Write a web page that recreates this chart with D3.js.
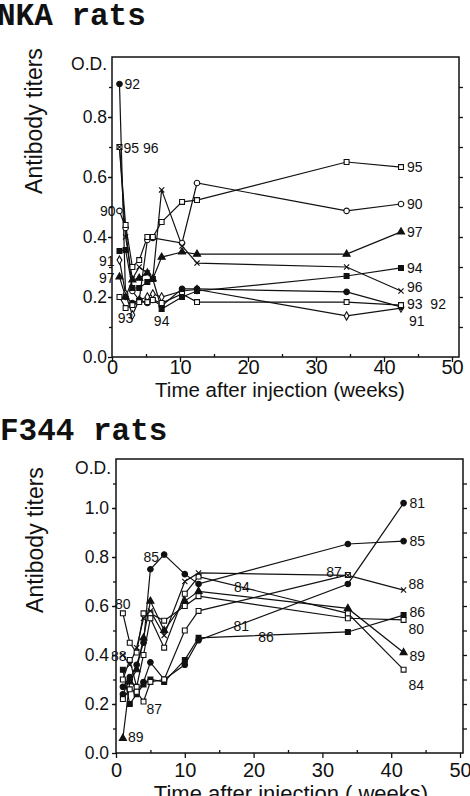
<!DOCTYPE html>
<html lang="en">
<head>
<meta charset="UTF-8">
<title>Antibody titers - NKA and F344 rats</title>
<script src="https://d3js.org/d3.v7.min.js"></script>
<style>
  body { margin: 0; background: #fff; }
  svg { display: block; }
  text { fill: #111; font-family: "Liberation Sans", Arial, Helvetica, sans-serif; }
  .title { font-family: "Courier New", "Liberation Mono", monospace; font-weight: bold; font-size: 31px; }
</style>
</head>
<body>
<div id="chart"></div>
<script>
// ---- DATA ----
// NKA rats: weeks after injection and O.D. per rat (null = not measured)
var weeksNka = [1.1, 2, 3, 4, 5.2, 6, 7.3, 10.3, 12.5, 34.5, 42.5];
var nka90 = [0.487, 0.43, 0.22, 0.19, 0.39, 0.397, null, 0.38, 0.58, 0.487, 0.51];
var nka91 = [0.323, 0.21, 0.14, 0.19, 0.20, 0.21, 0.20, 0.22, 0.225, 0.137, 0.163];
var nka92 = [0.91, 0.20, 0.18, 0.19, 0.18, 0.19, 0.17, 0.227, 0.227, 0.217, 0.167];
var nka93 = [0.20, 0.163, 0.173, 0.183, 0.183, 0.19, 0.18, 0.21, 0.183, 0.183, 0.173];
var nka94 = [0.353, 0.357, 0.23, 0.23, 0.25, 0.26, 0.16, 0.20, 0.22, 0.27, 0.297];
var nka95 = [0.70, 0.44, 0.30, 0.323, 0.40, 0.40, 0.45, 0.517, 0.523, 0.65, 0.633];
var nka96 = [0.70, 0.40, 0.26, 0.30, 0.28, 0.26, 0.557, 0.37, 0.313, 0.30, 0.22];
var nka97 = [0.267, 0.20, 0.257, 0.263, 0.28, 0.26, 0.333, 0.35, 0.343, 0.343, 0.417];

// F344 rats
var weeksF344 = [1, 2, 3, 4, 5, 7, 10, 12, 33.7, 41.8];
var f80 = [0.57, 0.45, 0.41, 0.57, 0.57, 0.54, 0.60, 0.64, 0.55, 0.543];
var f81 = [0.27, 0.31, 0.25, 0.29, 0.37, 0.30, 0.36, 0.46, 0.69, 1.02];
var f84 = [0.30, 0.38, 0.27, 0.40, 0.55, 0.43, 0.65, 0.72, 0.57, 0.34];
var f85 = [0.24, 0.30, 0.36, 0.45, 0.75, 0.81, 0.73, 0.69, 0.853, 0.865];
var f86 = [0.34, 0.20, 0.24, 0.28, 0.30, 0.29, 0.38, 0.47, 0.494, 0.563];
var f87 = [0.22, 0.26, 0.25, 0.21, 0.29, 0.30, 0.50, 0.58, 0.727, null];
var f88 = [0.40, 0.36, 0.43, 0.55, 0.58, 0.48, 0.70, 0.735, 0.725, 0.665];
var f89 = [0.06, 0.29, 0.34, 0.47, 0.62, 0.50, 0.62, 0.66, 0.59, 0.41];

// tick labels
var xTicks = [0, 10, 20, 30, 40, 50];
var yTicksNka = [0, 0.2, 0.4, 0.6, 0.8];
var yTicksF344 = [0, 0.2, 0.4, 0.6, 0.8, 1.0];

// ---- SERIES + LABELS ----
var seriesNka = [
  {id: "90", v: nka90, mark: "circle", open: true},
  {id: "91", v: nka91, mark: "diamond", open: true},
  {id: "92", v: nka92, mark: "circle", open: false},
  {id: "93", v: nka93, mark: "square", open: true},
  {id: "94", v: nka94, mark: "square", open: false},
  {id: "95", v: nka95, mark: "square", open: true},
  {id: "96", v: nka96, mark: "cross", open: true},
  {id: "97", v: nka97, mark: "triangle", open: false}
];
var labelsNka = [
  {s: "92", i: 0, dx: 5, dy: 5, t: "92"},
  {s: "95", i: 0, dx: 4, dy: 6, t: "95 96"},
  {s: "90", i: 0, dx: -4, dy: 5, a: "end", t: "90"},
  {s: "91", i: 0, dx: -5, dy: 6, a: "end", t: "91"},
  {s: "97", i: 0, dx: -5, dy: 6, a: "end", t: "97"},
  {s: "93", i: 1, dx: 0, dy: 15, a: "middle", t: "93"},
  {s: "94", i: 6, dx: 0, dy: 17, a: "middle", t: "94"},
  {s: "95", i: 10, dx: 6, dy: 5, t: "95"},
  {s: "90", i: 10, dx: 6, dy: 5, t: "90"},
  {s: "97", i: 10, dx: 6, dy: 5, t: "97"},
  {s: "94", i: 10, dx: 6, dy: 5, t: "94"},
  {s: "96", i: 10, dx: 6, dy: 1, t: "96"},
  {s: "93", i: 10, dx: 6, dy: 4, t: "93  92"},
  {s: "91", i: 10, dx: 8, dy: 18, t: "91"}
];

var seriesF344 = [
  {id: "80", v: f80, mark: "square", open: true},
  {id: "81", v: f81, mark: "circle", open: false},
  {id: "84", v: f84, mark: "square", open: true},
  {id: "85", v: f85, mark: "circle", open: false},
  {id: "86", v: f86, mark: "square", open: false},
  {id: "87", v: f87, mark: "square", open: true},
  {id: "88", v: f88, mark: "cross", open: true},
  {id: "89", v: f89, mark: "triangle", open: false}
];
var labelsF344 = [
  {s: "81", i: 9, dx: 6, dy: 5, t: "81"},
  {s: "85", i: 9, dx: 6, dy: 5, t: "85"},
  {s: "88", i: 9, dx: 5, dy: -1, t: "88"},
  {s: "86", i: 9, dx: 6, dy: 2, t: "86"},
  {s: "80", i: 9, dx: 5, dy: 14, t: "80"},
  {s: "89", i: 9, dx: 6, dy: 8, t: "89"},
  {s: "84", i: 9, dx: 5, dy: 20, t: "84"},
  {s: "87", i: 8, dx: -6, dy: 2, a: "end", t: "87"},
  {s: "85", i: 5, dx: -5, dy: 7, a: "end", t: "85"},
  {s: "80", i: 0, dx: 0, dy: -4, a: "middle", t: "80"},
  {s: "87", i: 3, dx: 3, dy: 12, t: "87"},
  {s: "89", i: 0, dx: 5, dy: 4, t: "89"},
  {w: 0, v: 0.4, dx: -5, dy: 6, t: "88"},
  {w: 18.3, v: 0.678, dx: 0, dy: 5, a: "middle", t: "84"},
  {w: 18.2, v: 0.518, dx: 0, dy: 5, a: "middle", t: "81"},
  {w: 21.8, v: 0.473, dx: 0, dy: 5, a: "middle", t: "86"}
];

// ---- DRAW ----
var svg = d3.select("#chart").append("svg")
    .attr("width", 470)
    .attr("height", 796);

function markerPath(kind) {
  if (kind == "circle") return d3.symbol(d3.symbolCircle, 24)();
  if (kind == "square") return d3.symbol(d3.symbolSquare, 24)();
  if (kind == "triangle") return d3.symbol(d3.symbolTriangle, 22)();
  if (kind == "diamond") return d3.symbol(d3.symbolDiamond, 20)();
  return "M-2.6,-2.6L2.6,2.6M-2.6,2.6L2.6,-2.6";
}

function drawPanel(p) {
  var g = svg.append("g");
  var x = d3.scaleLinear().domain([0, 50]).range([p.left, p.x50]);
  var y = d3.scaleLinear().domain([0, p.yMax]).range([p.bottom, p.top]);

  // title
  g.append("text").attr("class", "title")
    .attr("x", p.titleX).attr("y", p.titleY).text(p.title);

  // frame
  g.append("rect")
    .attr("x", p.left).attr("y", p.top)
    .attr("width", p.right - p.left).attr("height", p.bottom - p.top)
    .attr("fill", "none").attr("stroke", "#111").attr("stroke-width", 1.5);

  // left axis: major ticks + labels, minor ticks
  var yAx = g.append("g").attr("transform", "translate(" + p.left + ",0)")
    .call(d3.axisLeft(y).tickValues(p.yTicks).tickSize(4).tickPadding(p.yPad)
      .tickFormat(d3.format(".1f")));
  var yMinor = g.append("g").attr("transform", "translate(" + p.left + ",0)")
    .call(d3.axisLeft(y).tickValues(d3.range(1, p.yMax * 10).map(function(d) { return d / 10; }))
      .tickSize(3).tickFormat(""));
  // right axis ticks, pointing inward
  var yRight = g.append("g").attr("transform", "translate(" + p.right + ",0)")
    .call(d3.axisLeft(y).tickValues(d3.range(1, p.yMax * 10).map(function(d) { return d / 10; }))
      .tickSize(-4).tickFormat(""));
  // bottom axis
  var xAx = g.append("g").attr("transform", "translate(0," + p.bottom + ")")
    .call(d3.axisBottom(x).tickValues(xTicks).tickSize(5).tickPadding(p.xPad)
      .tickFormat(d3.format("d")));
  var xMinor = g.append("g").attr("transform", "translate(0," + p.bottom + ")")
    .call(d3.axisBottom(x).tickValues([5, 15, 25, 35, 45]).tickSize(-3).tickFormat(""));

  [yAx, yMinor, yRight, xAx, xMinor].forEach(function(a) {
    a.select(".domain").remove();
    a.selectAll("line").attr("stroke", "#111").attr("stroke-width", 1.3);
  });
  yAx.selectAll("text").style("font-size", "17.5px").attr("fill", "#111");
  xAx.selectAll("text").style("font-size", p.xTickSize).attr("fill", "#111");

  // O.D. unit on top of y axis
  g.append("text").attr("x", p.left - 5).attr("y", p.top + p.odDy)
    .attr("text-anchor", "end").style("font-size", "17.5px").text("O.D.");

  // axis titles
  g.append("text")
    .attr("transform", "translate(" + p.yTitleX + "," + p.yTitleY + ") rotate(-90)")
    .attr("text-anchor", "middle").style("font-size", "23px")
    .text("Antibody titers");
  g.append("text").attr("x", p.xTitleX).attr("y", p.xTitleY)
    .attr("text-anchor", "middle").style("font-size", p.xTitleSize)
    .text(p.xTitle);

  // series
  var line = d3.line().x(function(d) { return x(d.w); }).y(function(d) { return y(d.v); });
  var pts = {};
  p.series.forEach(function(s) {
    pts[s.id] = p.weeks.map(function(w, i) { return {w: w, v: s.v[i]}; });
  });
  p.series.forEach(function(s) {
    g.append("path")
      .datum(pts[s.id].filter(function(d) { return d.v != null; }))
      .attr("fill", "none").attr("stroke", "#111").attr("stroke-width", 1.2)
      .attr("d", line);
  });
  p.series.forEach(function(s) {
    g.selectAll(null)
      .data(pts[s.id].filter(function(d) { return d.v != null; }))
      .enter().append("path")
        .attr("transform", function(d) { return "translate(" + x(d.w) + "," + y(d.v) + ")"; })
        .attr("d", markerPath(s.mark))
        .attr("fill", s.open ? "#fff" : "#111")
        .attr("stroke", "#111").attr("stroke-width", 1.1);
  });

  // rat number labels
  p.labels.forEach(function(l) {
    var d = l.s ? pts[l.s][l.i] : {w: l.w, v: l.v};
    g.append("text")
      .attr("x", x(d.w) + l.dx).attr("y", y(d.v) + l.dy)
      .attr("text-anchor", l.a || "start")
      .style("font-size", "14px")
      .style("white-space", "pre")
      .text(l.t);
  });
}

drawPanel({
  title: "NKA rats", titleX: -3, titleY: 25,
  left: 112, x50: 452, right: 459, top: 57, bottom: 357, yMax: 1.0,
  yTicks: yTicksNka, yPad: 1, xPad: -2, xTickSize: "20px", odDy: 13,
  yTitleX: 42, yTitleY: 121,
  xTitle: "Time after injection (weeks)", xTitleX: 280, xTitleY: 397, xTitleSize: "20.5px",
  weeks: weeksNka, series: seriesNka, labels: labelsNka
});

drawPanel({
  title: "F344 rats", titleX: 0, titleY: 440,
  left: 116, x50: 460, right: 463, top: 459, bottom: 753, yMax: 1.2,
  yTicks: yTicksF344, yPad: 3, xPad: 5, xTickSize: "20px", odDy: 15,
  yTitleX: 43, yTitleY: 540,
  xTitle: "Time after injection ( weeks)", xTitleX: 291, xTitleY: 801, xTitleSize: "22px",
  weeks: weeksF344, series: seriesF344, labels: labelsF344
});
</script>
</body>
</html>
